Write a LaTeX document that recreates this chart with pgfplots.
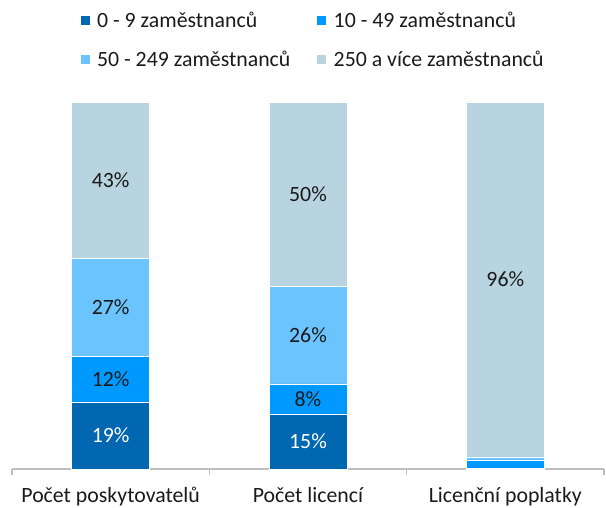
\documentclass[border=0pt]{standalone}
\usepackage{pgfplots}
\pgfplotsset{compat=1.18}
\usepackage{fontspec}
\setmainfont{Carlito}
\definecolor{cA}{HTML}{0067B0}
\definecolor{cB}{HTML}{0099FF}
\definecolor{cC}{HTML}{6CC4FF}
\definecolor{cD}{HTML}{B7D4E0}
\definecolor{axgray}{HTML}{BFBFBF}
\definecolor{txt}{HTML}{1A1A1A}
\newcommand{\fs}{\fontsize{21.8bp}{26bp}\selectfont}
\begin{document}
\begin{tikzpicture}
\pgfplotsset{
  base/.style={
    width=592bp, height=367bp, scale only axis,
    xmin=-0.5, xmax=2.5, ymin=0, ymax=100,
    font=\fs,
  }
}
\begin{axis}[base,
  ybar stacked, bar width=78bp,
  axis x line*=bottom, axis y line=none,
  x axis line style={draw=axgray, line width=1.2bp},
  xtick={0,1,2},
  xticklabels={Počet poskytovatelů, Počet licencí, Licenční poplatky},
  major tick length=0pt,
  minor xtick={-0.5,0.5,1.5,2.5},
  minor tick length=6bp, tick align=outside,
  minor tick style={draw=axgray, line width=1.2bp},
  xticklabel style={text=txt, yshift=-15bp},
  every axis plot post/.append style={
    legend image code/.code={\fill[##1] (0bp,-5bp) rectangle (10bp,5bp);}
  },
  legend columns=2,
  legend style={draw=none, fill=none, font=\fs, text=txt,
    at={(0.114,1.248)}, anchor=north west, inner sep=0pt,
    row sep=20bp,
    nodes={inner sep=1bp, anchor=west},
    /tikz/every odd column/.append style={column sep=6bp},
    /tikz/every even column/.append style={column sep=25bp}},
]
\addplot[fill=cA, draw=white, line width=0.4bp] coordinates {(0,18.3) (1,15.0) (2,0.3)};
\addplot[fill=cB, draw=white, line width=0.4bp] coordinates {(0,12.3) (1,8.2) (2,2.2)};
\addplot[fill=cC, draw=white, line width=0.4bp] coordinates {(0,26.8) (1,26.5) (2,0.8)};
\addplot[fill=cD, draw=white, line width=0.4bp] coordinates {(0,42.6) (1,50.3) (2,96.7)};
\legend{0 - 9 zaměstnanců, 10 - 49 zaměstnanců, 50 - 249 zaměstnanců, 250 a více zaměstnanců}
\end{axis}
\begin{axis}[base, hide axis]
\addplot[only marks, mark options={draw=none, fill=none},
  nodes near coords, point meta=explicit symbolic,
  every node near coord/.style={anchor=center, text=white, font=\fs}]
  coordinates {(0,9.2)[19\%] (1,7.5)[15\%]};
\addplot[only marks, mark options={draw=none, fill=none},
  nodes near coords, point meta=explicit symbolic,
  every node near coord/.style={anchor=center, text=txt, font=\fs}]
  coordinates {(0,24.4)[12\%] (0,44.0)[27\%] (0,78.7)[43\%]
               (1,19.1)[8\%] (1,36.5)[26\%] (1,74.8)[50\%]
               (2,51.6)[96\%]};
\end{axis}
\pgfresetboundingbox
\path ([xshift=-12bp,yshift=-39bp]current axis.south west) rectangle ([xshift=2bp,yshift=102bp]current axis.north east);
\end{tikzpicture}
\end{document}
